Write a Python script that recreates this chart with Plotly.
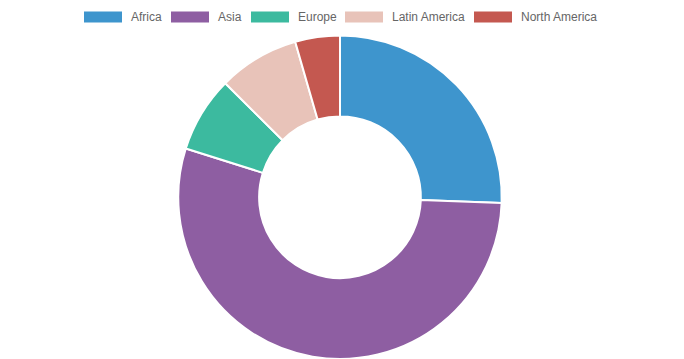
import plotly.graph_objects as go

W, H = 684, 359

labels = ["Africa", "Asia", "Europe", "Latin America", "North America"]
values = [2478, 5267, 734, 784, 433]
colors = ["#3e95cd", "#8e5ea2", "#3cba9f", "#e8c3b9", "#c45850"]

# legend layout (pixel positions of the boxes)
legend_box_x = [84, 171, 251, 345, 474]
box_w, box_y0, box_y1 = 38, 11.5, 22.5
text_gap = 7

fig = go.Figure(go.Pie(
    labels=labels,
    values=values,
    marker=dict(colors=colors, line=dict(color="#ffffff", width=2)),
    hole=0.5,
    sort=False,
    direction="clockwise",
    rotation=0,
    textinfo="none",
    hoverinfo="label+value",
    showlegend=False,
    domain=dict(x=[176 / W, 504 / W], y=[0, 1 - 35.5 / H]),
))

shapes = []
annotations = []
for lab, col, bx in zip(labels, colors, legend_box_x):
    shapes.append(dict(
        type="rect", xref="paper", yref="paper",
        x0=bx / W, x1=(bx + box_w) / W,
        y0=1 - box_y1 / H, y1=1 - box_y0 / H,
        fillcolor=col, line=dict(width=0),
    ))
    annotations.append(dict(
        text=lab, xref="paper", yref="paper",
        x=(bx + box_w + text_gap) / W, y=1 - 17 / H,
        xanchor="left", yanchor="middle", showarrow=False,
        font=dict(family="Liberation Sans, Arial, sans-serif", size=12, color="#666666"),
    ))

fig.update_layout(
    width=W, height=H,
    margin=dict(l=0, r=0, t=0, b=0),
    paper_bgcolor="#ffffff",
    plot_bgcolor="#ffffff",
    shapes=shapes,
    annotations=annotations,
)

fig.write_html("out.html")
